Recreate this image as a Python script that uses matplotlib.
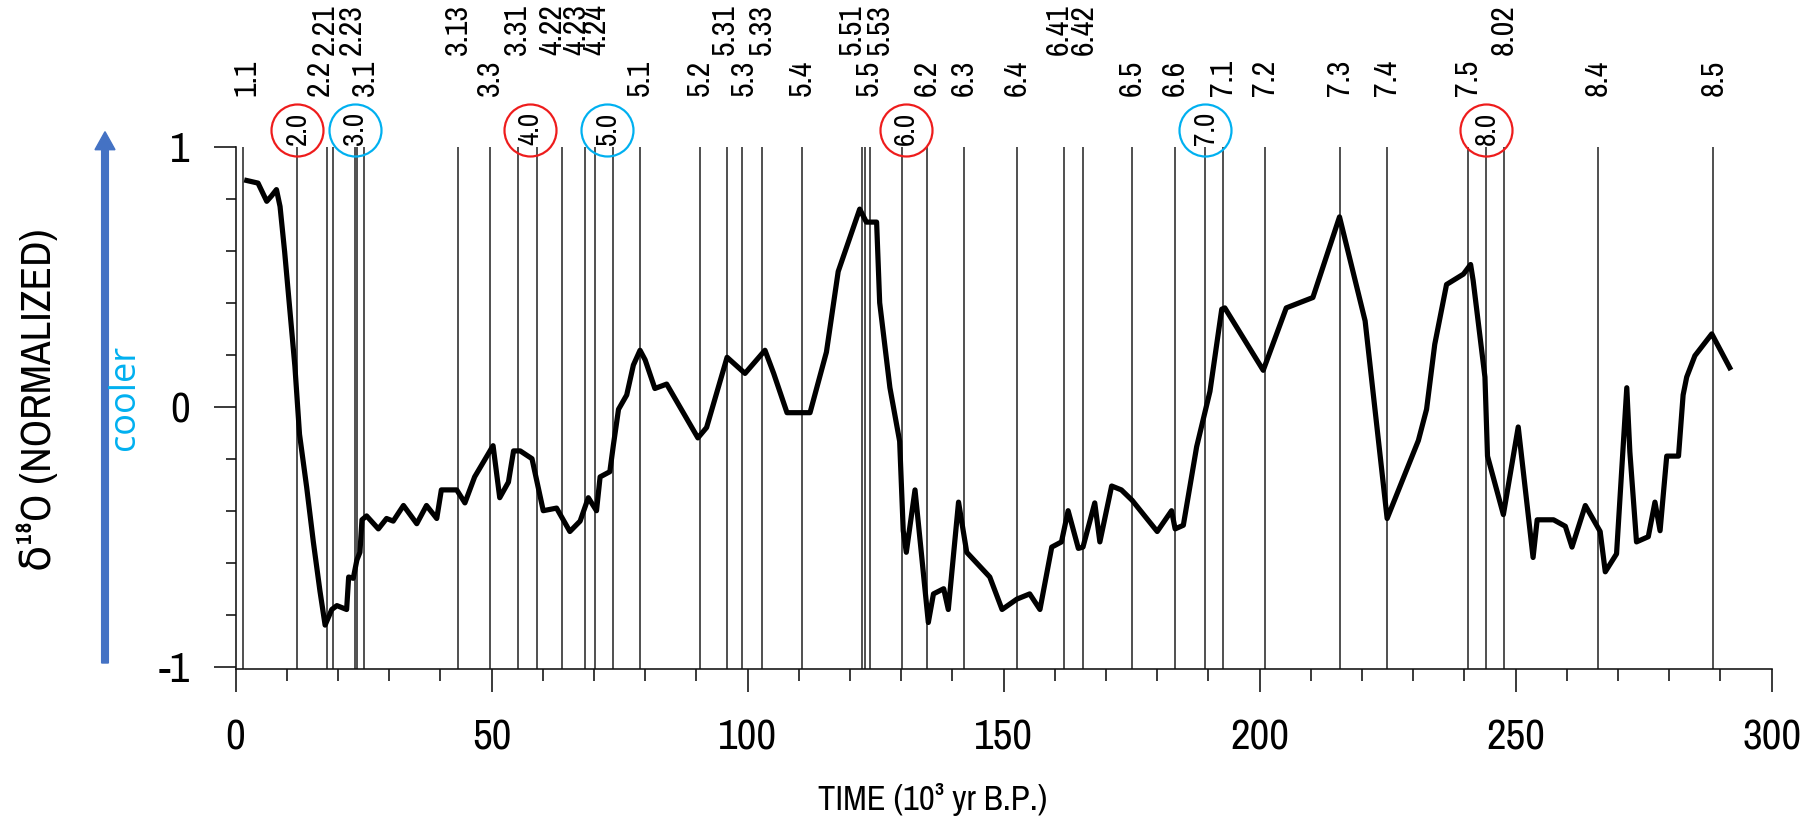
import matplotlib
matplotlib.use("Agg")
import matplotlib.pyplot as plt
from matplotlib import font_manager as fm
from matplotlib.transforms import blended_transform_factory, IdentityTransform
from matplotlib.patches import FancyArrow

names = sorted({f.name for f in fm.fontManager.ttflist})
narrow = [n for n in names if "Narrow" in n or "Condensed" in n]
if narrow:
    BASE = narrow[0]
elif "Liberation Sans" in names:
    BASE = "Liberation Sans"
else:
    BASE = "DejaVu Sans"
FAMILY = [BASE, "DejaVu Sans"]
plt.rcParams["font.family"] = FAMILY
plt.rcParams["axes.unicode_minus"] = False

# ---- stacked, normalized oxygen-isotope record ----
age_kyr = [2.2, 4.4, 6.1, 7.0, 8.0, 8.7, 9.6, 10.6, 11.6, 12.5, 13.9, 15.2, 16.5, 17.5,
           18.8, 19.8, 21.7, 22.1, 23.0, 23.7, 24.3, 24.7, 25.6, 27.9, 29.5, 30.8, 32.8,
           35.4, 37.3, 39.3, 40.2, 43.2, 44.8, 46.7, 49.7, 50.3, 51.6, 53.3, 54.3, 55.6,
           57.9, 60.1, 62.7, 65.3, 67.3, 68.9, 70.5, 71.2, 73.1, 73.8, 74.8, 76.4, 77.7,
           79.0, 80.0, 81.9, 84.2, 90.3, 92.0, 96.0, 99.5, 103.4, 105.1, 107.7, 112.2,
           115.4, 117.7, 121.9, 123.2, 125.2, 125.8, 127.8, 129.7, 130.4, 131.0, 132.7,
           135.3, 136.3, 138.3, 139.2, 141.2, 142.8, 147.3, 149.7, 152.6, 155.1, 157.1,
           159.4, 161.3, 162.6, 164.6, 165.5, 167.8, 168.8, 171.1, 173.0, 175.1, 180.0,
           182.8, 183.5, 185.1, 187.7, 190.3, 192.6, 193.2, 200.7, 205.2, 210.4, 215.6,
           220.6, 224.9, 231.0, 232.6, 234.2, 236.5, 239.8, 241.2, 241.7, 244.0, 244.5,
           247.6, 250.5, 253.4, 254.2, 257.4, 259.7, 261.0, 263.6, 266.5, 267.5, 269.7,
           271.7, 272.3, 273.6, 275.9, 277.2, 278.2, 279.5, 281.8, 282.7, 283.4, 285.0,
           288.3, 291.8]
d18o_norm = [0.87, 0.86, 0.79, 0.81, 0.835, 0.77, 0.595, 0.375, 0.155, -0.106, -0.31, -0.52,
             -0.71, -0.84, -0.78, -0.765, -0.78, -0.655, -0.66, -0.59, -0.56, -0.435, -0.42,
             -0.47, -0.43, -0.44, -0.38, -0.45, -0.38, -0.43, -0.32, -0.32, -0.37, -0.27,
             -0.17, -0.15, -0.35, -0.29, -0.17, -0.17, -0.20, -0.40, -0.39, -0.48, -0.44,
             -0.35, -0.40, -0.27, -0.25, -0.147, -0.01, 0.045, 0.16, 0.217, 0.18, 0.07,
             0.087, -0.12, -0.08, 0.19, 0.128, 0.217, 0.128, -0.023, -0.023, 0.21, 0.52,
             0.76, 0.71, 0.71, 0.40, 0.073, -0.133, -0.477, -0.56, -0.32, -0.83, -0.72,
             -0.70, -0.78, -0.367, -0.56, -0.655, -0.78, -0.74, -0.72, -0.78, -0.54, -0.52,
             -0.40, -0.545, -0.54, -0.37, -0.52, -0.305, -0.32, -0.36, -0.48, -0.40, -0.47,
             -0.456, -0.154, 0.059, 0.375, 0.38, 0.14, 0.38, 0.42, 0.73, 0.33, -0.43,
             -0.13, -0.01, 0.24, 0.47, 0.51, 0.547, 0.485, 0.114, -0.19, -0.415, -0.078,
             -0.58, -0.435, -0.435, -0.46, -0.54, -0.38, -0.48, -0.635, -0.566, 0.073,
             -0.174, -0.52, -0.50, -0.367, -0.477, -0.19, -0.19, 0.045, 0.114, 0.196,
             0.28, 0.15]

# ---- stratigraphic events (stage boundaries and isotope events) ----
event_labels = ["1.1", "2.0", "2.2", "2.21", "3.0", "2.23", "3.1", "3.13", "3.3", "3.31",
                "4.0", "4.22", "4.23", "4.24", "5.0", "5.1", "5.2", "5.31", "5.3", "5.33",
                "5.4", "5.51", "5.5", "5.53", "6.0", "6.2", "6.3", "6.4", "6.41", "6.42",
                "6.5", "6.6", "7.0", "7.1", "7.2", "7.3", "7.4", "7.5", "8.0", "8.02",
                "8.4", "8.5"]
event_ages = [1.5, 12.0, 17.8, 19.1, 23.3, 23.8, 25.0, 43.5, 49.7, 55.2,
              58.8, 63.7, 68.3, 70.2, 73.8, 79.0, 90.7, 95.9, 98.9, 102.8,
              110.6, 122.3, 123.0, 123.9, 130.1, 135.0, 142.2, 152.6, 161.7, 165.6,
              175.1, 183.4, 189.4, 192.8, 201.0, 215.6, 224.9, 240.6, 244.3, 247.7,
              266.0, 288.6]

x_ticks = [0, 50, 100, 150, 200, 250, 300]
y_ticks = [-1, 0, 1]
y_tick_labels = ["-1", "0", "1"]

# ---- layout (figure pixels) ----
W, H = 1817, 833
DPI = 100
PT = 72.0 / DPI  # points per pixel

fig = plt.figure(figsize=(W / DPI, H / DPI), dpi=DPI)
ax_left, ax_right = 235.5, 1771.7
ax_top, ax_bottom = 146.7, 669.3
ax = fig.add_axes([ax_left / W, 1 - ax_bottom / H, (ax_right - ax_left) / W,
                   (ax_bottom - ax_top) / H])
ax.set_xlim(0, 300)
ax.set_ylim(-1.01, 1.0)

for side in ("top", "right"):
    ax.spines[side].set_visible(False)
for side in ("left", "bottom"):
    ax.spines[side].set_linewidth(1.6 * PT)
    ax.spines[side].set_color("#111111")

# event lines
ax.vlines(event_ages, -1.01, 1.0, colors="#1c1c1c", linewidth=1.5 * PT, zorder=1)

# isotope curve
ax.plot(age_kyr, d18o_norm, color="black", linewidth=5.2 * PT, solid_joinstyle="round",
        zorder=3)

# ticks
ax.set_xticks(x_ticks)
ax.set_xticks(range(0, 301, 10), minor=True)
ax.set_yticks(y_ticks)
ax.set_yticklabels(y_tick_labels)
ax.set_yticks([v / 10 for v in range(-10, 11, 2)], minor=True)
ax.tick_params(axis="x", which="major", length=23 * PT, width=1.5 * PT, pad=19,
               labelsize=31, direction="out")
ax.tick_params(axis="x", which="minor", length=12 * PT, width=1.5 * PT, direction="out")
ax.tick_params(axis="y", which="major", length=22 * PT, width=1.5 * PT, pad=17,
               labelsize=31, direction="out")
ax.tick_params(axis="y", which="minor", length=10 * PT, width=1.5 * PT, direction="out")

# axis titles
fig.text(933 / W, 1 - 800 / H, "TIME (10³ yr B.P.)", ha="center", va="center",
         fontsize=25)
fig.text(37 / W, 1 - 400 / H, "δ¹⁸O (NORMALIZED)", rotation=90, ha="center",
         va="center", fontsize=31)

# event labels above the plot
trans = blended_transform_factory(ax.transData, fig.transFigure)
label_nudge = {"1.1": 0.7, "2.2": -1.3, "2.21": -1.6, "2.23": -1.1, "3.1": 0.3,
               "3.31": -0.3, "4.22": -1.9, "4.23": -1.7, "4.24": 0.3, "5.31": -0.3,
               "5.3": 0.3, "5.51": -1.9, "5.5": 0.6, "5.53": 2.0, "6.41": -1.0,
               "4.0": -1.3, "5.0": -1.2, "6.0": 0.8}
RED, CYAN = "#EE1C1C", "#00B0F0"
for lab, age in zip(event_labels, event_ages):
    x = age + label_nudge.get(lab, 0.0)
    if lab.endswith(".0"):
        stage = int(lab.split(".")[0])
        ring = RED if stage % 2 == 0 else CYAN
        ax.plot([x], [1 - 130 / H], marker="o", markersize=52 * PT,
                markerfacecolor="none", markeredgecolor=ring, markeredgewidth=2.2 * PT,
                transform=trans, clip_on=False, zorder=5)
        ax.text(x, 1 - 128 / H, lab, rotation=90, ha="center", va="center",
                fontsize=21, transform=trans)
    elif len(lab) == 4:
        ax.text(x, 1 - 55 / H, lab, rotation=90, ha="center", va="bottom",
                fontsize=23, transform=trans)
    else:
        ax.text(x, 1 - 96 / H, lab, rotation=90, ha="center", va="bottom",
                fontsize=23, transform=trans)

# "cooler" direction arrow
arrow = FancyArrow(105, H - 663, 0, 663 - 131.7, width=6.7, head_width=20,
                   head_length=18, length_includes_head=True, color="#4472C4",
                   transform=IdentityTransform())
fig.add_artist(arrow)
fig.text(125 / W, 1 - 397 / H, "cooler", rotation=90, ha="center", va="center",
         color=CYAN, fontsize=26, family=["Open Sans", "DejaVu Sans"])

fig.savefig("out.png", dpi=DPI)
